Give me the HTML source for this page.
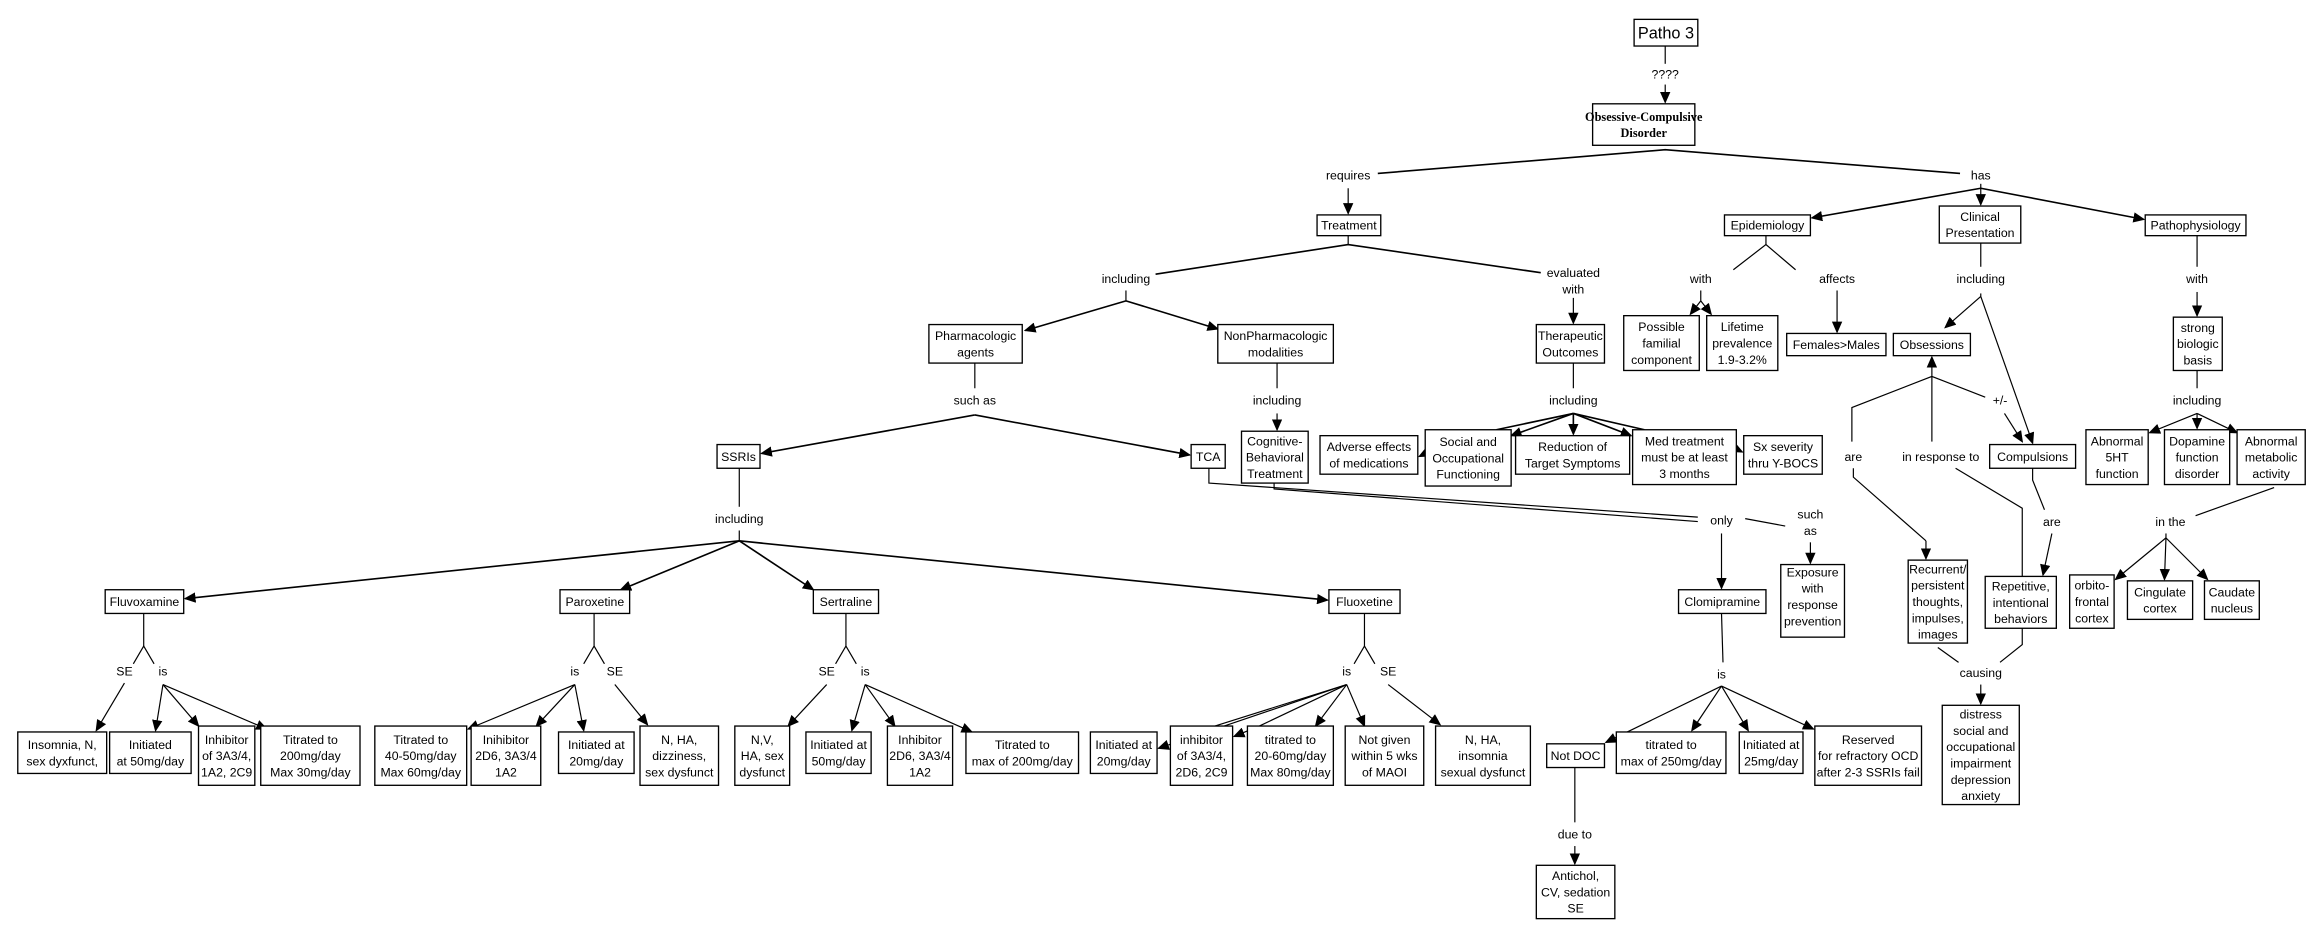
<!DOCTYPE html>
<html><head><meta charset="utf-8"><style>
html,body{margin:0;padding:0;background:#fff;}
svg{display:block;}
text{font-family:"Liberation Sans",Arial,sans-serif;font-size:8.3px;fill:#000;text-anchor:middle;}
rect{fill:#fff;stroke:#000;stroke-width:0.9;}
line,polyline{stroke:#000;stroke-width:0.8;fill:none;}
.t{stroke-width:1.1;}
</style></head><body>
<svg width="2323" height="938" viewBox="0 0 1568 633" xmlns="http://www.w3.org/2000/svg">
<defs><marker id="a" markerUnits="userSpaceOnUse" markerWidth="8" markerHeight="7" refX="7" refY="3.5" orient="auto"><path d="M0,0 L8,3.5 L0,7 z" fill="#000"/></marker></defs>

<!-- top -->
<rect x="1103" y="13" width="43" height="18"/><text x="1124.5" y="26" style="font-size:11px">Patho 3</text>
<line x1="1124" y1="31" x2="1124" y2="43"/><text x="1124" y="53">????</text>
<line x1="1124" y1="57" x2="1124" y2="69" marker-end="url(#a)"/>
<rect x="1075" y="70" width="69" height="28"/>
<text x="1109.5" y="81.5" style="font-family:'Liberation Serif',serif;font-weight:bold">Obsessive-Compulsive</text>
<text x="1109.5" y="92.5" style="font-family:'Liberation Serif',serif;font-weight:bold">Disorder</text>
<polyline class="t" points="930,117 1124,101 1323,117"/>
<text x="910" y="121">requires</text><text x="1337" y="121">has</text>
<line x1="910" y1="127" x2="910" y2="144" marker-end="url(#a)"/>

<!-- Treatment -->
<rect x="889" y="145" width="43" height="14"/><text x="910.5" y="155">Treatment</text>
<line x1="910" y1="159" x2="910" y2="165"/>
<polyline class="t" points="780,185 910,165 1040,184"/>
<text x="760" y="191">including</text>
<text x="1062" y="187">evaluated</text><text x="1062" y="198">with</text>
<line x1="760" y1="196" x2="760" y2="203"/>
<line class="t" x1="760" y1="203" x2="692" y2="223" marker-end="url(#a)"/>
<line class="t" x1="760" y1="203" x2="822" y2="222" marker-end="url(#a)"/>
<line x1="1062" y1="201" x2="1062" y2="218" marker-end="url(#a)"/>

<rect x="627" y="219" width="63" height="26"/><text x="658.5" y="229.5">Pharmacologic</text><text x="658.5" y="240.5">agents</text>
<rect x="822" y="219" width="78" height="26"/><text x="861" y="229.5">NonPharmacologic</text><text x="861" y="240.5">modalities</text>
<rect x="1037" y="219" width="46" height="26"/><text x="1060" y="229.5">Therapeutic</text><text x="1060" y="240.5">Outcomes</text>

<line x1="658" y1="245" x2="658" y2="262"/><text x="658" y="273">such as</text>
<line class="t" x1="658" y1="280" x2="514" y2="306" marker-end="url(#a)"/>
<line class="t" x1="658" y1="280" x2="803" y2="307" marker-end="url(#a)"/>
<line x1="862" y1="245" x2="862" y2="262"/><text x="862" y="273">including</text>
<line x1="862" y1="279" x2="862" y2="290" marker-end="url(#a)"/>
<line x1="1062" y1="245" x2="1062" y2="262"/><text x="1062" y="273">including</text>
<line class="t" x1="1062" y1="279" x2="1010" y2="290"/>
<line class="t" x1="1062" y1="279" x2="1020" y2="294" marker-end="url(#a)"/>
<line class="t" x1="1062" y1="279" x2="1062" y2="293" marker-end="url(#a)"/>
<line class="t" x1="1062" y1="279" x2="1101" y2="294" marker-end="url(#a)"/>
<line class="t" x1="1062" y1="279" x2="1110" y2="290"/>
<line x1="962" y1="306" x2="958" y2="308" marker-end="url(#a)"/>
<line x1="1172" y1="303" x2="1176" y2="305" marker-end="url(#a)"/>

<rect x="484" y="300" width="29" height="16"/><text x="498.5" y="311">SSRIs</text>
<rect x="804" y="300" width="23" height="16"/><text x="815.5" y="311">TCA</text>
<rect x="838" y="291" width="45" height="35"/><text x="860.5" y="300.5">Cognitive-</text><text x="860.5" y="311.5">Behavioral</text><text x="860.5" y="322.5">Treatment</text>
<rect x="891" y="294" width="66" height="26"/><text x="924" y="304.5">Adverse effects</text><text x="924" y="315.5">of medications</text>
<rect x="962" y="290" width="58" height="38"/><text x="991" y="301">Social and</text><text x="991" y="312">Occupational</text><text x="991" y="323">Functioning</text>
<rect x="1023" y="294" width="77" height="26"/><text x="1061.5" y="304.5">Reduction of</text><text x="1061.5" y="315.5">Target Symptoms</text>
<rect x="1102" y="290" width="70" height="37"/><text x="1137" y="300.5">Med treatment</text><text x="1137" y="311.5">must be at least</text><text x="1137" y="322.5">3 months</text>
<rect x="1177" y="294" width="53" height="26"/><text x="1203.5" y="304.5">Sx severity</text><text x="1203.5" y="315.5">thru Y-BOCS</text>

<!-- TCA / CBT to only / such as -->
<polyline points="816,316 816,326 1146,349"/>
<polyline points="860,326 860,330 1146,352"/>
<text x="1162" y="354">only</text>
<line x1="1178" y1="350" x2="1205" y2="355"/>
<text x="1222" y="350">such</text><text x="1222" y="361">as</text>
<line x1="1162" y1="360" x2="1162" y2="397" marker-end="url(#a)"/>
<line x1="1222" y1="366" x2="1222" y2="380" marker-end="url(#a)"/>
<rect x="1202" y="381" width="43" height="49"/><text x="1223.5" y="389">Exposure</text><text x="1223.5" y="400">with</text><text x="1223.5" y="411">response</text><text x="1223.5" y="422">prevention</text>

<!-- SSRIs -->
<line x1="499" y1="316" x2="499" y2="342"/><text x="499" y="353">including</text>
<line x1="499" y1="358" x2="499" y2="365"/>
<line class="t" x1="499" y1="365" x2="125" y2="404" marker-end="url(#a)"/>
<line class="t" x1="499" y1="365" x2="419" y2="398" marker-end="url(#a)"/>
<line class="t" x1="499" y1="365" x2="549" y2="398" marker-end="url(#a)"/>
<line class="t" x1="499" y1="365" x2="896" y2="405" marker-end="url(#a)"/>

<rect x="71" y="398" width="53" height="16"/><text x="97.5" y="409">Fluvoxamine</text>
<rect x="378" y="398" width="47" height="16"/><text x="401.5" y="409">Paroxetine</text>
<rect x="549" y="398" width="44" height="16"/><text x="571" y="409">Sertraline</text>
<rect x="897" y="398" width="48" height="16"/><text x="921" y="409">Fluoxetine</text>
<rect x="1133" y="398" width="59" height="16"/><text x="1162.5" y="409">Clomipramine</text>

<!-- Fluvoxamine -->
<polyline points="97,414 97,436"/><polyline points="90,448 97,436 104,448"/>
<text x="84" y="456">SE</text><text x="110" y="456">is</text>
<line x1="84" y1="461" x2="65" y2="493" marker-end="url(#a)"/>
<line x1="110" y1="462" x2="105" y2="493" marker-end="url(#a)"/>
<line x1="110" y1="462" x2="134" y2="490" marker-end="url(#a)"/>
<line x1="110" y1="462" x2="180" y2="492" marker-end="url(#a)"/>
<rect x="12" y="494" width="60" height="28"/><text x="42" y="505.5">Insomnia, N,</text><text x="42" y="516.5">sex dyxfunct,</text>
<rect x="74" y="494" width="55" height="28"/><text x="101.5" y="505.5">Initiated</text><text x="101.5" y="516.5">at 50mg/day</text>
<rect x="134" y="490" width="38" height="40"/><text x="153" y="502">Inhibitor</text><text x="153" y="513">of 3A3/4,</text><text x="153" y="524">1A2, 2C9</text>
<rect x="176" y="490" width="67" height="40"/><text x="209.5" y="502">Titrated to</text><text x="209.5" y="513">200mg/day</text><text x="209.5" y="524">Max 30mg/day</text>

<!-- Paroxetine -->
<polyline points="401,414 401,436"/><polyline points="394,448 401,436 408,448"/>
<text x="388" y="456">is</text><text x="415" y="456">SE</text>
<line x1="388" y1="462" x2="316" y2="492" marker-end="url(#a)"/>
<line x1="388" y1="462" x2="362" y2="490" marker-end="url(#a)"/>
<line x1="388" y1="462" x2="394" y2="493" marker-end="url(#a)"/>
<line x1="415" y1="462" x2="437" y2="489" marker-end="url(#a)"/>
<rect x="253" y="490" width="62" height="40"/><text x="284" y="502">Titrated to</text><text x="284" y="513">40-50mg/day</text><text x="284" y="524">Max 60mg/day</text>
<rect x="318" y="490" width="47" height="40"/><text x="341.5" y="502">Inihibitor</text><text x="341.5" y="513">2D6, 3A3/4</text><text x="341.5" y="524">1A2</text>
<rect x="377" y="494" width="51" height="28"/><text x="402.5" y="505.5">Initiated at</text><text x="402.5" y="516.5">20mg/day</text>
<rect x="432" y="490" width="53" height="40"/><text x="458.5" y="502">N, HA,</text><text x="458.5" y="513">dizziness,</text><text x="458.5" y="524">sex dysfunct</text>

<!-- Sertraline -->
<polyline points="571,414 571,436"/><polyline points="564,448 571,436 578,448"/>
<text x="558" y="456">SE</text><text x="584" y="456">is</text>
<line x1="558" y1="462" x2="532" y2="490" marker-end="url(#a)"/>
<line x1="584" y1="462" x2="575" y2="493" marker-end="url(#a)"/>
<line x1="584" y1="462" x2="604" y2="490" marker-end="url(#a)"/>
<line x1="584" y1="462" x2="656" y2="494" marker-end="url(#a)"/>
<rect x="496" y="490" width="37" height="40"/><text x="514.5" y="502">N,V,</text><text x="514.5" y="513">HA, sex</text><text x="514.5" y="524">dysfunct</text>
<rect x="544" y="494" width="44" height="28"/><text x="566" y="505.5">Initiated at</text><text x="566" y="516.5">50mg/day</text>
<rect x="599" y="490" width="44" height="40"/><text x="621" y="502">Inhibitor</text><text x="621" y="513">2D6, 3A3/4</text><text x="621" y="524">1A2</text>
<rect x="652" y="494" width="76" height="28"/><text x="690" y="505.5">Titrated to</text><text x="690" y="516.5">max of 200mg/day</text>

<!-- Fluoxetine -->
<polyline points="921,414 921,436"/><polyline points="914,448 921,436 928,448"/>
<text x="909" y="456">is</text><text x="937" y="456">SE</text>
<polyline points="909,462 820,490"/>
<line x1="909" y1="462" x2="782" y2="505" marker-end="url(#a)"/>
<polyline points="909,462 850,490"/>
<line x1="850" y1="490" x2="833" y2="497" marker-end="url(#a)"/>
<line x1="909" y1="462" x2="888" y2="490" marker-end="url(#a)"/>
<line x1="909" y1="462" x2="921" y2="490" marker-end="url(#a)"/>
<line x1="937" y1="462" x2="972" y2="489" marker-end="url(#a)"/>
<rect x="736" y="494" width="45" height="28"/><text x="758.5" y="505.5">Initiated at</text><text x="758.5" y="516.5">20mg/day</text>
<rect x="790" y="490" width="42" height="40"/><text x="811" y="502">inhibitor</text><text x="811" y="513">of 3A3/4,</text><text x="811" y="524">2D6, 2C9</text>
<rect x="842" y="490" width="58" height="40"/><text x="871" y="502">titrated to</text><text x="871" y="513">20-60mg/day</text><text x="871" y="524">Max 80mg/day</text>
<rect x="908" y="490" width="53" height="40"/><text x="934.5" y="502">Not given</text><text x="934.5" y="513">within 5 wks</text><text x="934.5" y="524">of MAOI</text>
<rect x="969" y="490" width="64" height="40"/><text x="1001" y="502">N, HA,</text><text x="1001" y="513">insomnia</text><text x="1001" y="524">sexual dysfunct</text>

<!-- Clomipramine -->
<line x1="1162" y1="414" x2="1163" y2="447"/><text x="1162" y="458">is</text>
<line x1="1162" y1="463" x2="1084" y2="501" marker-end="url(#a)"/>
<line x1="1162" y1="463" x2="1142" y2="493" marker-end="url(#a)"/>
<line x1="1162" y1="463" x2="1180" y2="493" marker-end="url(#a)"/>
<line x1="1162" y1="463" x2="1224" y2="492" marker-end="url(#a)"/>
<rect x="1044" y="502" width="39" height="16"/><text x="1063.5" y="513">Not DOC</text>
<rect x="1091" y="494" width="74" height="28"/><text x="1128" y="505.5">titrated to</text><text x="1128" y="516.5">max of 250mg/day</text>
<rect x="1174" y="494" width="43" height="28"/><text x="1195.5" y="505.5">Initiated at</text><text x="1195.5" y="516.5">25mg/day</text>
<rect x="1225" y="490" width="72" height="40"/><text x="1261" y="502">Reserved</text><text x="1261" y="513">for refractory OCD</text><text x="1261" y="524">after 2-3 SSRIs fail</text>
<line x1="1063" y1="518" x2="1063" y2="555"/><text x="1063" y="566">due to</text>
<line x1="1063" y1="571" x2="1063" y2="583" marker-end="url(#a)"/>
<rect x="1037" y="584" width="53" height="36"/><text x="1063.5" y="594">Antichol,</text><text x="1063.5" y="605">CV, sedation</text><text x="1063.5" y="616">SE</text>

<!-- has branch -->
<line x1="1337" y1="124" x2="1337" y2="127"/>
<line class="t" x1="1337" y1="127" x2="1223" y2="147" marker-end="url(#a)"/>
<line x1="1337" y1="127" x2="1337" y2="138" marker-end="url(#a)"/>
<line class="t" x1="1337" y1="127" x2="1447" y2="148" marker-end="url(#a)"/>
<rect x="1164" y="145" width="58" height="14"/><text x="1193" y="155">Epidemiology</text>
<rect x="1309" y="139" width="55" height="25"/><text x="1336.5" y="149">Clinical</text><text x="1336.5" y="160">Presentation</text>
<rect x="1448" y="145" width="68" height="14"/><text x="1482" y="155">Pathophysiology</text>

<line x1="1192" y1="159" x2="1192" y2="165"/>
<polyline points="1170,182 1192,165 1212,182"/>
<text x="1148" y="191">with</text><text x="1240" y="191">affects</text>
<line x1="1148" y1="196" x2="1148" y2="203"/>
<line x1="1148" y1="203" x2="1141" y2="212" marker-end="url(#a)"/>
<line x1="1148" y1="203" x2="1155" y2="212" marker-end="url(#a)"/>
<line x1="1240" y1="196" x2="1240" y2="224" marker-end="url(#a)"/>
<rect x="1096" y="213" width="51" height="37"/><text x="1121.5" y="223.5">Possible</text><text x="1121.5" y="234.5">familial</text><text x="1121.5" y="245.5">component</text>
<rect x="1152" y="213" width="48" height="37"/><text x="1176" y="223.5">Lifetime</text><text x="1176" y="234.5">prevalence</text><text x="1176" y="245.5">1.9-3.2%</text>
<rect x="1206" y="225" width="67" height="15"/><text x="1239.5" y="235.5">Females&gt;Males</text>

<line x1="1337" y1="164" x2="1337" y2="180"/><text x="1337" y="191">including</text>
<line x1="1337" y1="198" x2="1337" y2="200"/>
<line x1="1337" y1="200" x2="1313" y2="221" marker-end="url(#a)"/>
<line x1="1337" y1="200" x2="1372" y2="299" marker-end="url(#a)"/>
<rect x="1278" y="225" width="52" height="15"/><text x="1304" y="235.5">Obsessions</text>
<rect x="1343" y="300" width="58" height="16"/><text x="1372" y="311">Compulsions</text>
<line x1="1304" y1="298" x2="1304" y2="241" marker-end="url(#a)"/>
<polyline points="1250,298 1250,275 1304,254 1340,268"/>
<text x="1251" y="311">are</text><text x="1310" y="311">in response to</text><text x="1350" y="273">+/-</text>
<line x1="1353" y1="279" x2="1365" y2="298" marker-end="url(#a)"/>
<polyline points="1251,316 1251,322 1300,365"/><line x1="1300" y1="365" x2="1300" y2="377" marker-end="url(#a)"/>
<polyline points="1320,316 1365,343 1365,389"/>
<polyline points="1372,316 1372,324 1380,344"/><text x="1385" y="355">are</text>
<line x1="1385" y1="360" x2="1379" y2="388" marker-end="url(#a)"/>
<rect x="1288" y="378" width="40" height="56"/><text x="1308" y="387">Recurrent/</text><text x="1308" y="398">persistent</text><text x="1308" y="409">thoughts,</text><text x="1308" y="420">impulses,</text><text x="1308" y="431">images</text>
<rect x="1340" y="389" width="48" height="35"/><text x="1364" y="398.5">Repetitive,</text><text x="1364" y="409.5">intentional</text><text x="1364" y="420.5">behaviors</text>
<line x1="1308" y1="437" x2="1322" y2="447"/>
<polyline points="1365,424 1365,435 1350,447"/>
<text x="1337" y="457">causing</text>
<line x1="1337" y1="462" x2="1337" y2="475" marker-end="url(#a)"/>
<rect x="1311" y="476" width="52" height="67"/><text x="1337" y="485">distress</text><text x="1337" y="496">social and</text><text x="1337" y="507">occupational</text><text x="1337" y="518">impairment</text><text x="1337" y="529">depression</text><text x="1337" y="540">anxiety</text>

<line x1="1483" y1="159" x2="1483" y2="180"/><text x="1483" y="191">with</text>
<line x1="1483" y1="197" x2="1483" y2="213" marker-end="url(#a)"/>
<rect x="1467" y="214" width="33" height="36"/><text x="1483.5" y="224">strong</text><text x="1483.5" y="235">biologic</text><text x="1483.5" y="246">basis</text>
<line x1="1483" y1="250" x2="1483" y2="262"/><text x="1483" y="273">including</text>
<line x1="1483" y1="279" x2="1451" y2="292" marker-end="url(#a)"/>
<line x1="1483" y1="279" x2="1483" y2="289" marker-end="url(#a)"/>
<line x1="1483" y1="279" x2="1510" y2="292" marker-end="url(#a)"/>
<rect x="1408" y="290" width="42" height="37"/><text x="1429" y="300.5">Abnormal</text><text x="1429" y="311.5">5HT</text><text x="1429" y="322.5">function</text>
<rect x="1461" y="290" width="44" height="37"/><text x="1483" y="300.5">Dopamine</text><text x="1483" y="311.5">function</text><text x="1483" y="322.5">disorder</text>
<rect x="1510" y="290" width="46" height="37"/><text x="1533" y="300.5">Abnormal</text><text x="1533" y="311.5">metabolic</text><text x="1533" y="322.5">activity</text>
<line x1="1535" y1="329" x2="1482" y2="348"/><text x="1465" y="355">in the</text>
<line x1="1462" y1="360" x2="1462" y2="363"/>
<line x1="1462" y1="363" x2="1428" y2="391" marker-end="url(#a)"/>
<line x1="1462" y1="363" x2="1461" y2="391" marker-end="url(#a)"/>
<line x1="1462" y1="363" x2="1490" y2="391" marker-end="url(#a)"/>
<rect x="1397" y="388" width="30" height="36"/><text x="1412" y="398">orbito-</text><text x="1412" y="409">frontal</text><text x="1412" y="420">cortex</text>
<rect x="1436" y="392" width="44" height="26"/><text x="1458" y="402.5">Cingulate</text><text x="1458" y="413.5">cortex</text>
<rect x="1488" y="392" width="37" height="26"/><text x="1506.5" y="402.5">Caudate</text><text x="1506.5" y="413.5">nucleus</text>
</svg>
</body></html>
